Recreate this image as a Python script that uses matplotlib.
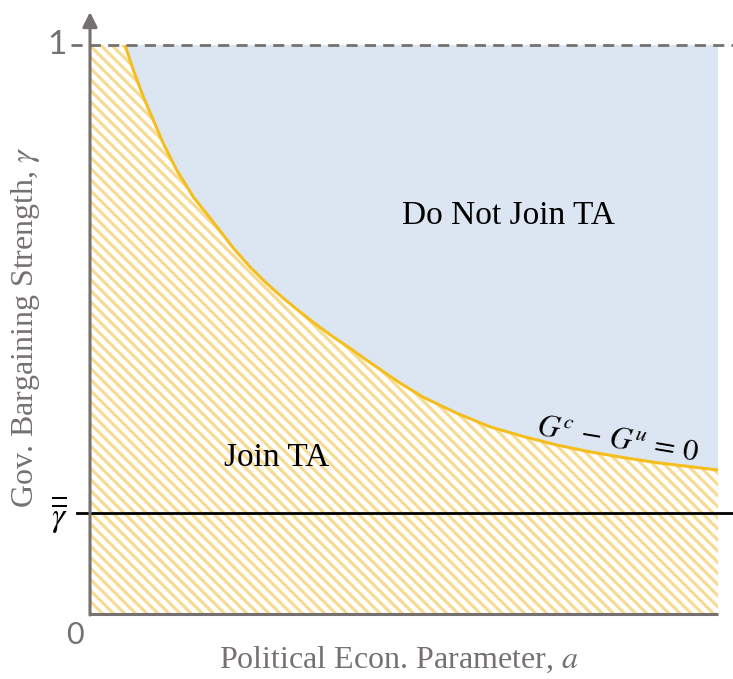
import numpy as np
import matplotlib
matplotlib.use("Agg")
import matplotlib.pyplot as plt

# Boundary G^c - G^u = 0 in (a, gamma) space
a_curve = [0.0557, 0.0690, 0.0849, 0.1008, 0.1167, 0.1381, 0.1645, 0.2018,
           0.2282, 0.2548, 0.2814, 0.3078, 0.3344, 0.3610, 0.3874, 0.4140,
           0.4406, 0.4670, 0.4936, 0.5307, 0.5839, 0.6369, 0.6900, 0.7432,
           0.7962, 0.8492, 0.9024, 0.9554, 1.0]
g_curve = [1.000, 0.956, 0.909, 0.868, 0.827, 0.780, 0.733, 0.681,
           0.643, 0.610, 0.581, 0.555, 0.531, 0.508, 0.487, 0.467,
           0.446, 0.426, 0.406, 0.381, 0.353, 0.329, 0.312, 0.297,
           0.285, 0.275, 0.266, 0.259, 0.253]
gamma_bar = 0.1775
gamma_max = 1.0

region_labels = ["Do Not Join TA", "Join TA"]
boundary_label = r"$G^c\,-\,G^u\,=\,0$"
x_label = "Political Econ. Parameter, "
y_label = "Gov. Bargaining Strength, "

GRAY = "#767171"
BLUE = "#DCE6F2"
GOLD = "#F4BF1E"
HATCH = "#F7DB92"

plt.rcParams["hatch.linewidth"] = 2.3
plt.rcParams["mathtext.fontset"] = "stix"

W, H = 733, 679
fig = plt.figure(figsize=(W / 100, H / 100), dpi=100)
ax = fig.add_axes([0, 0, 1, 1])
x0_px, x1_px, y0_px, y1_px = 90, 718, 614, 45
sx = x1_px - x0_px
sy = y0_px - y1_px
ax.set_xlim(-x0_px / sx, (W - x0_px) / sx)
ax.set_ylim(-(H - y0_px) / sy, y0_px / sy)
ax.axis("off")


def px(x, y):
    """Pixel position (from top-left) to data coordinates."""
    return (x - x0_px) / sx, (y0_px - y) / sy


# Regions
xa = np.array([0.0] + a_curve)
ga = np.array([gamma_max] + g_curve)
ax.fill_between(xa, 0, ga, facecolor="white", edgecolor=HATCH, hatch="\\\\\\",
                linewidth=0, zorder=1)
ax.fill_between(a_curve, g_curve, gamma_max, facecolor=BLUE, linewidth=0, zorder=1)
ax.plot(a_curve, g_curve, color=GOLD, lw=2.2, zorder=3, solid_capstyle="butt",
        solid_joinstyle="round")

# Reference lines
x_end = (W - x0_px) / sx
ax.plot([-0.03, x_end], [gamma_max, gamma_max], color=GRAY, lw=2.0,
        ls=(0, (4, 2.6)), zorder=4, clip_on=False)
ax.plot([-0.021, x_end], [gamma_bar, gamma_bar], color="black", lw=2.0,
        zorder=4, clip_on=False)

# Axes lines
ax.plot([0, 1], [0, 0], color=GRAY, lw=2.2, zorder=5, solid_capstyle="butt")
ax.annotate("", xy=(0, 1.058), xytext=(0, -0.0019),
            arrowprops=dict(arrowstyle="-|>", color=GRAY, lw=2.2,
                            mutation_scale=22, shrinkA=0, shrinkB=0), zorder=5)

# Tick labels
ax.text(*px(57, 45), "1", fontsize=24, color=GRAY, family="Lato",
        ha="center", va="center")
ax.text(*px(75, 635), "0", fontsize=22, color=GRAY, family="Lato",
        ha="center", va="center")
ax.text(*px(59, 514), r"$\overline{\overline{\gamma}}$", fontsize=24,
        color="black", ha="center", va="center")

# Region labels
ax.text(*px(508, 216), region_labels[0], fontsize=24,
        family="Liberation Serif", ha="center", va="center")
ax.text(*px(277, 458), region_labels[1], fontsize=24,
        family="Liberation Serif", ha="center", va="center")
ax.text(*px(618, 440), boundary_label, fontsize=22,
        rotation=-9.5, ha="center", va="center", rotation_mode="anchor")

# Axis titles
ax.text(*px(399, 660), x_label + r"$a$", fontsize=23,
        family="Liberation Serif", color=GRAY, ha="center", va="center")
ax.text(*px(26, 327), y_label + r"$\gamma$", fontsize=23,
        family="Liberation Serif", color=GRAY, ha="center", va="center",
        rotation=90)

fig.savefig("out.png", dpi=100)
